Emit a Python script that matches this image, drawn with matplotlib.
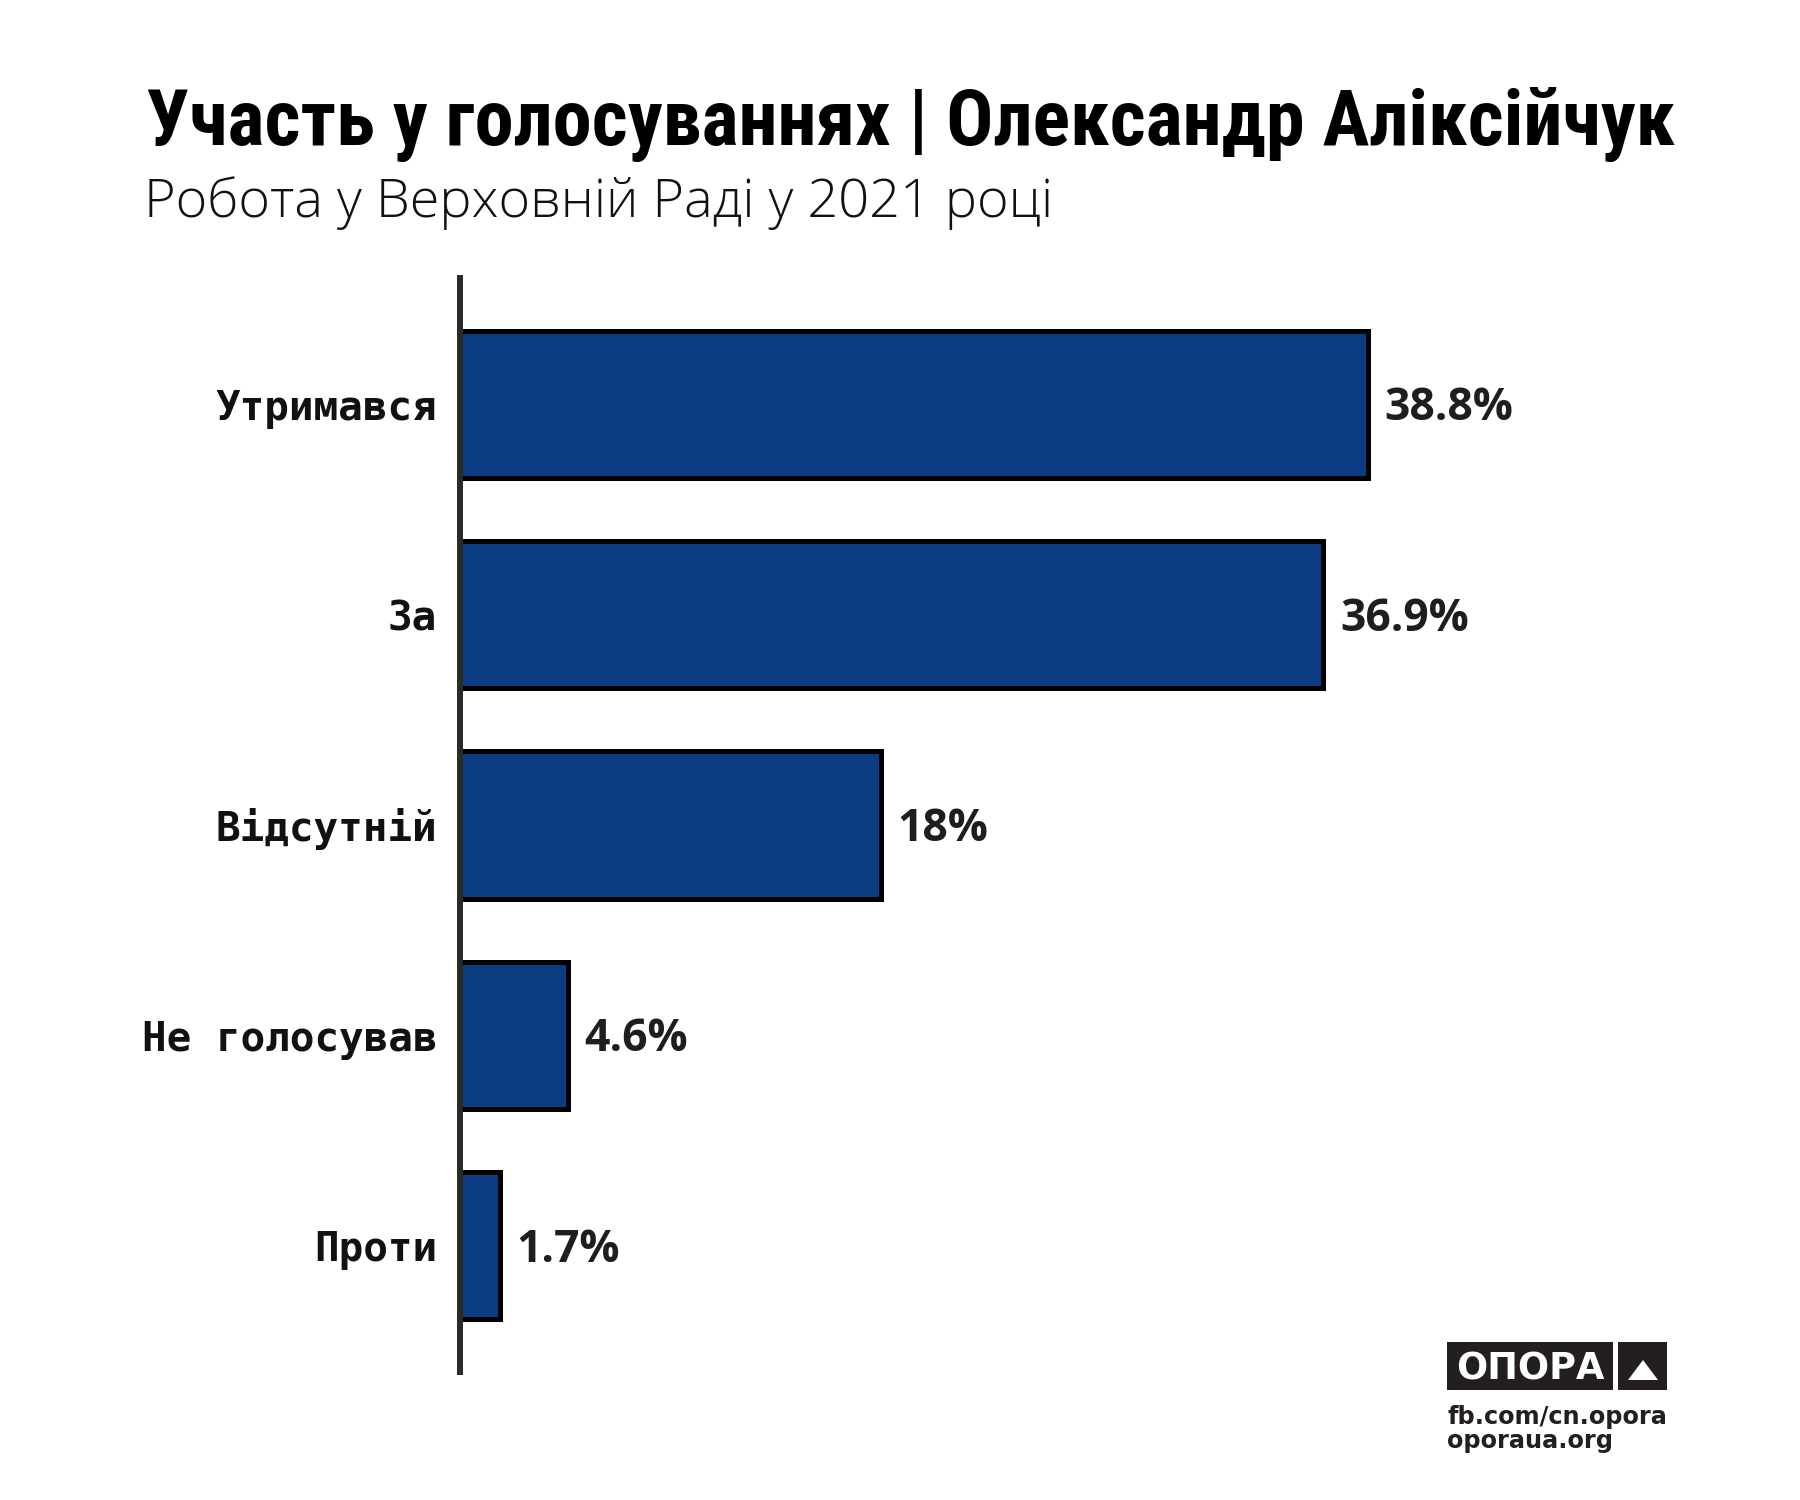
import matplotlib
matplotlib.use("Agg")
import matplotlib.pyplot as plt
from matplotlib.patches import Rectangle, Polygon

# data
categories = ["Утримався", "За", "Відсутній", "Не голосував", "Проти"]
values = [38.8, 36.9, 18, 4.6, 1.7]
value_labels = ["38.8%", "36.9%", "18%", "4.6%", "1.7%"]

title = "Участь у голосуваннях | Олександр Аліксійчук"
subtitle = "Робота у Верховній Раді у 2021 році"

W, H = 1800, 1500
bar_color = "#0b3b81"

fig = plt.figure(figsize=(18, 15), dpi=100)
fig.patch.set_facecolor("white")


def fx(px):
    return px / W


def fy(py):
    return 1 - py / H


def fit_width(t, target_px):
    # shrink/grow font size so the text spans target_px
    fig.canvas.draw()
    r = fig.canvas.get_renderer()
    w = t.get_window_extent(r).width
    t.set_fontsize(t.get_fontsize() * target_px / w)


# axes: spine at x=460, spans y 278..1372
ax = fig.add_axes([fx(460), fy(1372), fx(1240), (1372 - 278) / H])
ax.barh(range(len(values)), values, height=0.70, color=bar_color,
        edgecolor="black", linewidth=3.6, zorder=2)
ax.set_xlim(0, 1240 / 23.4)
ax.set_ylim(4.6, -0.6)

for s in ["top", "right", "bottom"]:
    ax.spines[s].set_visible(False)
ax.spines["left"].set_linewidth(4.3)
ax.spines["left"].set_color("#2a2b24")
ax.spines["left"].set_zorder(3)
ax.set_xticks([])
ax.set_yticks([])

for i, (cat, v, lab) in enumerate(zip(categories, values, value_labels)):
    ax.annotate(cat, xy=(0, i), xytext=(-16.5, -11.2), textcoords="offset points",
                ha="right", va="baseline", fontsize=29.5, fontweight="bold",
                family=["DejaVu Sans Mono"], color="#111111")
    ax.annotate(lab, xy=(v, i), xytext=(12, -11.5), textcoords="offset points",
                ha="left", va="baseline", fontsize=32, fontweight="bold",
                family=["Open Sans", "DejaVu Sans"], color="#1e1e1e")

# title and subtitle
t1 = fig.text(fx(146), fy(145), title, ha="left", va="baseline",
              fontsize=50, fontweight="bold",
              family=["Roboto Condensed", "Roboto", "DejaVu Sans"], color="black")
fit_width(t1, 1531)
t2 = fig.text(fx(144), fy(217), subtitle, ha="left", va="baseline",
              fontsize=40, fontweight="light",
              family=["Open Sans", "DejaVu Sans"], color="#111111")
fit_width(t2, 908)

# logo block
fig.patches.append(Rectangle((fx(1447), fy(1390)), (1613 - 1447) / W, 48 / H,
                             transform=fig.transFigure, facecolor="#231f20",
                             edgecolor="none"))
fig.patches.append(Rectangle((fx(1618), fy(1390)), (1667 - 1618) / W, 48 / H,
                             transform=fig.transFigure, facecolor="#231f20",
                             edgecolor="none"))
fig.patches.append(Polygon([(fx(1628), fy(1380)), (fx(1658), fy(1380)),
                            (fx(1643), fy(1360))], closed=True,
                           transform=fig.transFigure, facecolor="white",
                           edgecolor="none"))
t3 = fig.text(fx(1456), fy(1379), "ОПОРА", ha="left", va="baseline",
              fontsize=24, fontweight="bold",
              family=["DejaVu Sans"], color="white")
fit_width(t3, 148)
t4 = fig.text(fx(1447), fy(1424), "fb.com/cn.opora", ha="left", va="baseline",
              fontsize=18, fontweight="bold",
              family=["DejaVu Sans"], color="#231f20")
fit_width(t4, 220)
t5 = fig.text(fx(1447), fy(1448), "oporaua.org", ha="left", va="baseline",
              fontsize=t4.get_fontsize(), fontweight="bold",
              family=["DejaVu Sans"], color="#231f20")

fig.savefig("out.png", dpi=100, facecolor="white")
